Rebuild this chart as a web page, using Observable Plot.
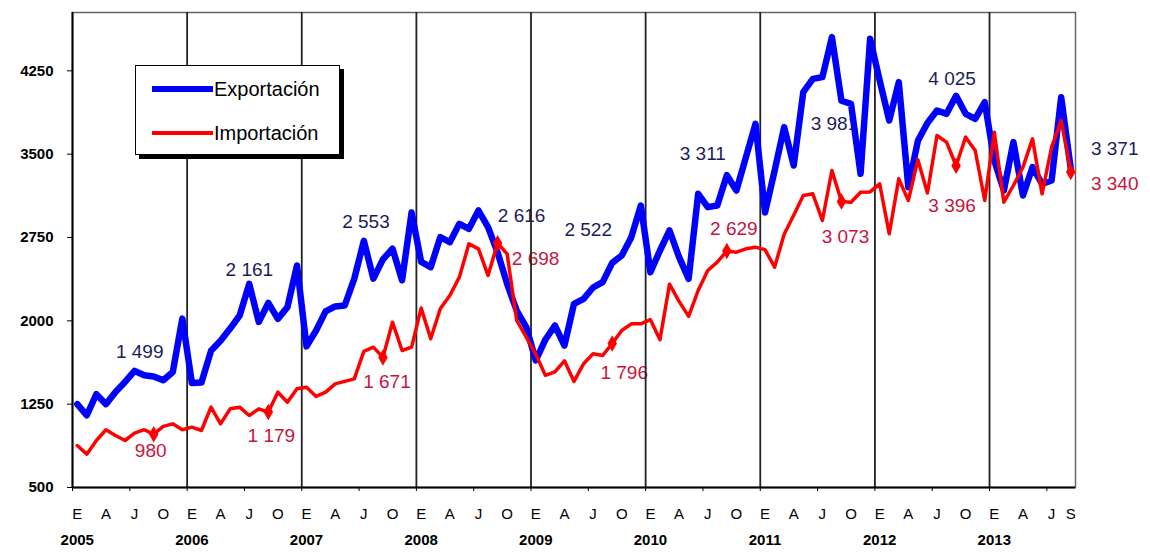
<!DOCTYPE html>
<html><head><meta charset="utf-8">
<script src="https://cdn.jsdelivr.net/npm/d3@7"></script>
<script src="https://cdn.jsdelivr.net/npm/@observablehq/plot@0.6"></script>
<style>
html,body{margin:0;padding:0;background:#fff;}
#wrap{position:relative;width:1150px;height:552px;font-family:"Liberation Sans",Arial,sans-serif;}
#legend{position:absolute;left:135px;top:65px;width:203px;height:88px;border:1.5px solid #000;background:#fff;box-shadow:4px 4px 0 #000;}
.item{position:absolute;left:16px;height:26px;display:flex;align-items:center;font-size:20px;color:#000;}
.sw{width:61px;margin-right:1px;}
</style></head><body>
<div id="wrap"><div id="chart"></div>
<div id="legend">
<div class="item" style="top:10px"><div class="sw" style="height:5.5px;background:#0000ff"></div><span>Exportación</span></div>
<div class="item" style="top:54px"><div class="sw" style="height:3.5px;background:#ff0000"></div><span>Importación</span></div>
</div></div>
<script>
// ---- data ----
const startYear = 2005;
const monthLetters = ["E","F","M","A","M","J","J","A","S","O","N","D"];
const yTicks = [500, 1250, 2000, 2750, 3500, 4250];
const exportacion = [
  1250,1150,1340,1250,1360,1450,1550,1510,1499,1465,1540,2020,
  1440,1445,1730,1820,1930,2048,2333,1990,2161,2018,2123,2498,
  1770,1913,2085,2130,2138,2380,2720,2380,2553,2650,2365,2975,
  2530,2483,2753,2708,2873,2828,2993,2843,2616,2333,2093,1943,
  1643,1830,1958,1778,2153,2198,2300,2348,2522,2588,2753,3038,
  2438,2633,2813,2573,2378,3143,3023,3038,3311,3173,3473,3773,
  2975,3350,3743,3398,4058,4178,4193,4553,3981,3953,3323,4538,
  4163,3803,4148,3203,3620,3780,3893,3863,4025,3863,3818,3968,
  3443,3173,3608,3128,3383,3233,3263,4013,3371
];
const importacion = [
  878,800,923,1020,968,923,990,1020,980,1050,1073,1020,
  1043,1013,1223,1073,1208,1223,1148,1208,1179,1358,1268,1388,
  1403,1320,1358,1433,1455,1478,1725,1763,1671,1988,1733,1763,
  2115,1838,2108,2228,2393,2693,2648,2408,2698,2603,2003,1853,
  1700,1510,1540,1640,1455,1613,1703,1688,1796,1913,1973,1973,
  2010,1830,2330,2175,2040,2273,2453,2528,2629,2618,2648,2663,
  2640,2483,2780,2950,3128,3143,2903,3353,3073,3068,3158,3160,
  3233,2783,3278,3083,3450,3150,3668,3608,3396,3653,3533,3083,
  3698,3068,3218,3383,3638,3143,3563,3803,3340
];
const labelMonths = [8, 20, 32, 44, 56, 68, 80, 92, 104];

// ---- layout (label offsets in px) ----
const exportLabelOffsets = [[-14,-25],[-19,-33],[-17,-37],[24,-36],[-24,-33],[-24,-21],[-7,23],[-4,-17],[44,-20]];
const importLabelOffsets = [[-3,17],[3,24],[4,25],[38,16],[12,29],[7,-22],[4,35],[-4,40],[44,12]];

const n = exportacion.length;
const rows = exportacion.map((v, i) => ({i: i + 0.5, exp: v, imp: importacion[i]}));
const fmt = d3.formatLocale({thousands: " ", grouping: [3], decimal: ",", currency: ["", ""]}).format(",d");

const monthTicks = [];
for (let i = 0; i < n; i++) if (i % 3 === 0 || i === n - 1) monthTicks.push(i);
const years = d3.range(0, n, 12);
const yearBounds = d3.range(12, n, 12);
const halfYears = d3.range(0, n + 1, 6);

const font = "'Liberation Sans', Arial, sans-serif";
const labelMarks = [];
labelMonths.forEach((m, k) => {
  const r = rows[m];
  labelMarks.push(Plot.text([r], {x: "i", y: "exp", text: d => fmt(d.exp), dx: exportLabelOffsets[k][0], dy: exportLabelOffsets[k][1], fill: "#1c1c5c", fontSize: 19, fontFamily: font, textAnchor: "middle", lineAnchor: "middle"}));
  labelMarks.push(Plot.text([r], {x: "i", y: "imp", text: d => fmt(d.imp), dx: importLabelOffsets[k][0], dy: importLabelOffsets[k][1], fill: "#c8143c", fontSize: 19, fontFamily: font, textAnchor: "middle", lineAnchor: "middle"}));
});

const chart = Plot.plot({
  width: 1150, height: 552,
  marginLeft: 72, marginRight: 75, marginTop: 12, marginBottom: 65,
  style: {fontFamily: font, background: "#fff"},
  x: {domain: [0, n], axis: null},
  y: {domain: [500, 4775], axis: null},
  marks: [
    Plot.frame({stroke: "#666", strokeWidth: 1.5}),
    ...labelMarks,
    Plot.ruleX(yearBounds, {stroke: "#222", strokeWidth: 1.8}),
    Plot.ruleX([0], {stroke: "#000", strokeWidth: 2}),
    Plot.ruleY([500], {stroke: "#000", strokeWidth: 2}),
    Plot.axisY(yTicks, {tickSize: 5, tickPadding: 14, tickFormat: d => String(d), fontSize: 15, fontWeight: "bold", label: null, stroke: "#000"}),
    Plot.axisX(halfYears, {tickSize: 4, fill: "none", label: null, stroke: "#000"}),
    Plot.text(monthTicks, {x: d => d + 0.5, frameAnchor: "bottom", dy: 27, text: d => monthLetters[d % 12], fontSize: 15, fontFamily: font, lineAnchor: "middle"}),
    Plot.text(years, {x: d => d + 0.5, frameAnchor: "bottom", dy: 53, text: d => String(startYear + d / 12), fontSize: 15, fontWeight: "bold", fontFamily: font, lineAnchor: "middle"}),
    Plot.line(rows, {x: "i", y: "exp", stroke: "#0000ff", strokeWidth: 6.5}),
    Plot.line(rows, {x: "i", y: "imp", stroke: "#ff0000", strokeWidth: 3.5}),
    Plot.dot(labelMonths.map(m => rows[m]), {x: "i", y: "imp", symbol: "diamond", r: 5, fill: "#ff0000"})
  ]
});
document.getElementById("chart").appendChild(chart);
</script>
</body></html>
